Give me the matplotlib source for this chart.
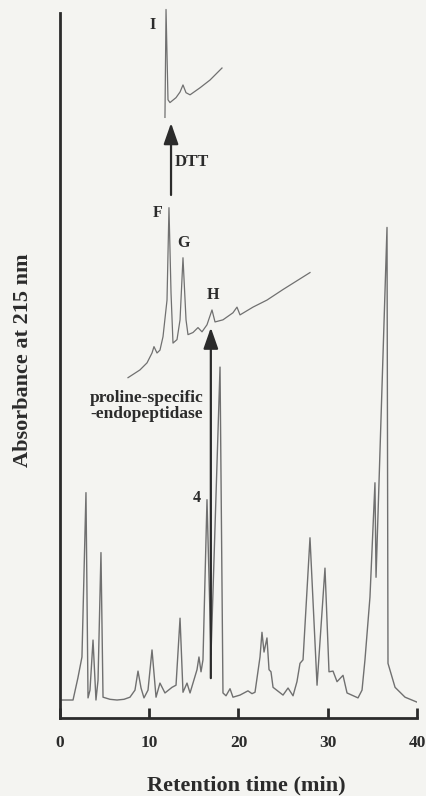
import matplotlib
matplotlib.use("Agg")
from matplotlib import pyplot as plt

# main HPLC run (retention time in min, absorbance in arbitrary units)
main_time = [0.0, 1.46, 2.0, 2.46, 2.91, 3.14, 3.36, 3.70, 4.03, 4.26, 4.59, 4.82,
             5.60, 6.39, 7.17, 7.84, 8.40, 8.74, 9.08, 9.41, 9.86, 10.31, 10.76,
             11.20, 11.76, 12.55, 13.00, 13.45, 13.78, 14.23, 14.57, 15.35, 15.57,
             15.80, 16.02, 16.47, 16.92, 17.93, 18.26, 18.60, 19.05, 19.38, 20.17,
             21.06, 21.51, 21.85, 22.41, 22.63, 22.86, 23.19, 23.42, 23.64, 23.87,
             24.99, 25.55, 26.11, 26.55, 26.89, 27.23, 28.01, 28.80, 29.69, 30.14,
             30.59, 31.04, 31.71, 32.16, 33.39, 33.84, 34.17, 34.73, 35.29, 35.41,
             36.64, 36.75, 37.54, 38.66, 40.0]
main_abs = [0.0, 0.0, 3.1, 6.1, 29.4, 0.3, 1.4, 8.5, 0.0, 2.8, 20.9, 0.4,
            0.1, 0.0, 0.1, 0.4, 1.4, 4.1, 1.7, 0.3, 1.4, 7.1, 0.4,
            2.4, 1.0, 1.8, 2.1, 11.6, 1.1, 2.4, 1.0, 4.3, 6.1,
            4.0, 5.7, 28.4, 6.4, 47.2, 1.0, 0.6, 1.6, 0.4, 0.7,
            1.3, 0.9, 1.1, 6.1, 9.6, 6.8, 8.8, 4.3, 4.0, 1.8,
            0.7, 1.7, 0.6, 2.6, 5.2, 5.7, 23.0, 2.1, 18.7, 4.0,
            4.1, 2.6, 3.5, 1.0, 0.3, 1.4, 5.7, 14.6, 30.8, 17.4,
            67.0, 5.2, 1.8, 0.4, -0.3]

# peak 4 after proline-specific endopeptidase
pep_time = [7.62, 8.96, 9.75, 10.31, 10.53, 10.87, 11.20, 11.54, 11.99, 12.21,
            12.44, 12.66, 13.11, 13.45, 13.78, 14.12, 14.34, 14.90, 15.46, 15.91,
            16.47, 17.03, 17.37, 18.26, 19.38, 19.83, 20.17, 21.62, 23.19, 24.99,
            28.01]
pep_abs = [45.7, 46.8, 47.8, 49.2, 50.1, 49.2, 49.6, 51.5, 56.7, 69.8,
           57.7, 50.6, 51.1, 53.9, 62.7, 53.9, 51.8, 52.1, 52.8, 52.2,
           53.2, 55.3, 53.6, 53.9, 54.9, 55.7, 54.6, 55.7, 56.7, 58.2,
           60.6]

# peak F after DTT reduction
dtt_time = [11.76, 11.88, 12.10, 12.32, 13.00, 13.45, 13.78, 14.12, 14.57,
            15.69, 16.81, 18.15]
dtt_abs = [82.6, 97.9, 85.1, 84.7, 85.4, 86.2, 87.2, 86.1, 85.8,
           86.8, 87.9, 89.6]

x_ticks = [0, 10, 20, 30, 40]
peak_labels = ["I", "F", "G", "H", "4"]
peak_label_pos = [(10.42, 95.7), (10.98, 69.1), (13.89, 64.8), (17.14, 57.4), (15.35, 28.7)]

bg = "#f4f4f1"
ink = "#2b2b2b"
trace = "#707070"

plt.rcParams["font.family"] = ["Liberation Serif", "DejaVu Serif"]
plt.rcParams["font.weight"] = "bold"

fig = plt.figure(figsize=(4.27, 7.96), dpi=100, facecolor=bg)
ax = fig.add_axes([60 / 427, 1 - 718 / 796, 357 / 427, 705 / 796])
ax.set_facecolor(bg)

ax.plot(main_time, main_abs, color=trace, lw=1.0)
ax.plot(pep_time, pep_abs, color=trace, lw=0.9)
ax.plot(dtt_time, dtt_abs, color=trace, lw=0.9, clip_on=False)

for lab, (tx, ty) in zip(peak_labels, peak_label_pos):
    ax.text(tx, ty, lab, ha="center", va="center", fontsize=11.5, color=ink)

arrow = dict(arrowstyle="-|>,head_length=0.8,head_width=0.28", color=ink, lw=1.6,
             shrinkA=0, shrinkB=0, mutation_scale=16)
ax.annotate("", xy=(12.44, 81.8), xytext=(12.44, 71.6), arrowprops=arrow)
ax.annotate("", xy=(16.9, 52.8), xytext=(16.9, 3.1), arrowprops=arrow)
ax.text(14.79, 76.3, "DTT", ha="center", va="center", fontsize=12, color=ink)
ax.text(9.75, 41.7, "proline-specific\n-endopeptidase", ha="center", va="center",
        fontsize=12.5, color=ink, linespacing=1.0)

ax.set_xlim(0, 40)
ax.set_ylim(-2.55, 97.4)
ax.set_xticks(x_ticks)
ax.set_yticks([])
ax.tick_params(axis="x", direction="in", length=7, width=2, color=ink,
               labelsize=12.5, pad=12, labelcolor=ink)
for side in ["top", "right"]:
    ax.spines[side].set_visible(False)
for side in ["left", "bottom"]:
    ax.spines[side].set_linewidth(2)
    ax.spines[side].set_color(ink)

fig.text(246 / 427, 1 - 785 / 796, "Retention time (min)", ha="center", va="center",
         fontsize=16, color=ink)
fig.text(23 / 427, 1 - 360 / 796, "Absorbance at 215 nm", ha="center", va="center",
         rotation=90, fontsize=16, color=ink)

fig.savefig("out.png", dpi=100, facecolor=bg)
